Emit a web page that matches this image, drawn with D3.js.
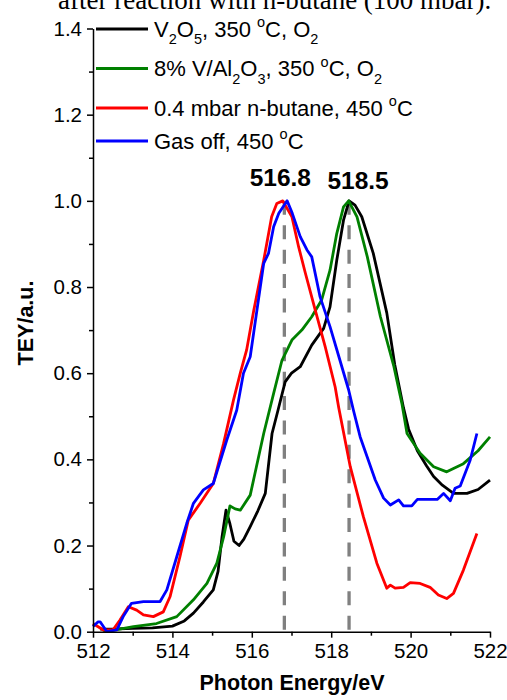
<!DOCTYPE html>
<html>
<head>
<meta charset="utf-8">
<script src="https://cdnjs.cloudflare.com/ajax/libs/d3/7.8.5/d3.min.js"></script>
<style>
  body { margin: 0; background: #fff; }
  svg text { font-family: Arial, "Liberation Sans", sans-serif; fill: #000; }
  .axis path, .axis line { stroke: #000; stroke-width: 1.5; }
  .curve { fill: none; stroke-width: 2.8; stroke-linejoin: round; }
</style>
</head>
<body>
<div id="chart"></div>
<script>
// chart size and plot box
const width = 507;
const height = 700;
const margin = { top: 28.5, right: 17, bottom: 68.3, left: 93 };

// data (photon energy in eV, TEY normalised)
const v2o5E = [512.18, 512.5, 513.0, 513.5, 514.0, 514.3, 514.53, 514.78, 515.03, 515.15, 515.25, 515.35, 515.45, 515.55, 515.68, 515.8, 515.96, 516.15, 516.34, 516.51, 516.66, 516.84, 517.0, 517.22, 517.51, 517.81, 517.97, 518.14, 518.31, 518.45, 518.6, 518.77, 519.06, 519.4, 519.6, 519.82, 519.95, 520.17, 520.4, 520.58, 520.8, 521.08, 521.42, 521.7, 522.0];
const v2o5Y = [0.006, 0.006, 0.008, 0.009, 0.013, 0.025, 0.043, 0.069, 0.097, 0.14, 0.22, 0.282, 0.25, 0.21, 0.20, 0.215, 0.244, 0.28, 0.321, 0.46, 0.514, 0.58, 0.60, 0.615, 0.665, 0.704, 0.754, 0.862, 0.955, 1.0, 0.99, 0.963, 0.878, 0.74, 0.62, 0.52, 0.47, 0.42, 0.385, 0.36, 0.34, 0.321, 0.321, 0.33, 0.352];

const valE = [512.26, 512.6, 513.02, 513.6, 514.11, 514.53, 514.87, 515.12, 515.29, 515.45, 515.58, 515.71, 515.96, 516.3, 516.55, 516.76, 517.01, 517.26, 517.51, 517.76, 517.97, 518.14, 518.31, 518.44, 518.65, 518.91, 519.24, 519.58, 519.78, 519.91, 520.24, 520.58, 520.91, 521.33, 521.7, 522.0];
const valY = [0.0, 0.005, 0.012, 0.019, 0.035, 0.074, 0.112, 0.159, 0.22, 0.292, 0.285, 0.282, 0.317, 0.46, 0.553, 0.63, 0.677, 0.70, 0.731, 0.77, 0.839, 0.924, 0.986, 1.0, 0.963, 0.87, 0.731, 0.615, 0.53, 0.46, 0.414, 0.383, 0.371, 0.39, 0.42, 0.452];

const butE = [512.0, 512.26, 512.5, 512.68, 512.89, 513.1, 513.27, 513.52, 513.77, 513.94, 514.19, 514.4, 514.7, 515.03, 515.29, 515.54, 515.71, 515.87, 516.05, 516.3, 516.5, 516.63, 516.78, 517.01, 517.18, 517.35, 517.6, 517.85, 518.1, 518.19, 518.48, 518.81, 519.15, 519.4, 519.49, 519.61, 519.82, 519.99, 520.24, 520.49, 520.7, 520.91, 521.08, 521.33, 521.67];
const butY = [0.019, 0.004, 0.004, 0.027, 0.058, 0.05, 0.039, 0.035, 0.046, 0.081, 0.174, 0.259, 0.298, 0.344, 0.437, 0.538, 0.60, 0.654, 0.746, 0.862, 0.963, 0.994, 1.0, 0.963, 0.893, 0.832, 0.746, 0.661, 0.568, 0.52, 0.383, 0.267, 0.159, 0.101, 0.108, 0.101, 0.103, 0.114, 0.112, 0.103, 0.085, 0.077, 0.089, 0.143, 0.228];

const offE = [512.0, 512.13, 512.18, 512.35, 512.6, 512.76, 512.97, 513.27, 513.69, 513.86, 514.11, 514.36, 514.53, 514.78, 515.03, 515.37, 515.62, 515.79, 515.96, 516.3, 516.42, 516.55, 516.68, 516.89, 517.02, 517.22, 517.39, 517.51, 517.72, 517.97, 518.22, 518.44, 518.56, 518.73, 519.11, 519.32, 519.49, 519.70, 519.82, 520.03, 520.17, 520.67, 520.83, 521.0, 521.12, 521.25, 521.5, 521.67];
const offY = [0.012, 0.023, 0.023, 0.0, 0.004, 0.035, 0.066, 0.07, 0.07, 0.097, 0.174, 0.251, 0.298, 0.329, 0.344, 0.445, 0.514, 0.60, 0.638, 0.855, 0.878, 0.94, 0.971, 1.0, 0.971, 0.917, 0.886, 0.87, 0.777, 0.708, 0.63, 0.561, 0.514, 0.452, 0.352, 0.31, 0.294, 0.306, 0.292, 0.292, 0.307, 0.307, 0.321, 0.304, 0.333, 0.338, 0.398, 0.46];

// peak markers
const peakE = [516.82, 518.45];
const peakLabels = ['516.8', '518.5'];

// ticks
const xTicks = [512, 514, 516, 518, 520, 522];
const xMinor = [513, 515, 517, 519, 521];
const yTicks = [0, 0.2, 0.4, 0.6, 0.8, 1.0, 1.2, 1.4];
const yMinor = [0.1, 0.3, 0.5, 0.7, 0.9, 1.1, 1.3];

const series = [
  { E: v2o5E, Y: v2o5Y, color: '#000000' },
  { E: valE, Y: valY, color: '#008000' },
  { E: butE, Y: butY, color: '#ff0000' },
  { E: offE, Y: offY, color: '#0000ff' }
];

const svg = d3.select('div#chart').append('svg').attr('width', width).attr('height', height);

// cut-off caption line at the very top
svg.append('text')
  .attr('x', 58).attr('y', 9)
  .style('font-family', '"Liberation Serif", "Times New Roman", serif')
  .style('font-size', '27px')
  .text('after reaction with n-butane (100 mbar).');

const x = d3.scaleLinear().domain([512, 522]).range([margin.left, width - margin.right]);
const y = d3.scaleLinear().domain([0, 1.4]).range([height - margin.bottom, margin.top]);

// dashed peak lines
svg.append('g').selectAll('line').data(peakE).enter().append('line')
  .attr('x1', d => x(d)).attr('x2', d => x(d))
  .attr('y1', y(1.0)).attr('y2', y(0))
  .attr('stroke', '#808080').attr('stroke-width', 3.3)
  .attr('stroke-dasharray', '14,10.4');

// curves
const line = d3.line().x(d => x(d[0])).y(d => y(d[1]));
svg.append('g').selectAll('path').data(series).enter().append('path')
  .attr('class', 'curve')
  .attr('stroke', d => d.color)
  .attr('d', d => line(d.E.map((e, i) => [e, d.Y[i]])));

// axes
svg.append('g').attr('class', 'axis').attr('transform', `translate(0,${y(0)})`)
  .call(d3.axisBottom(x).tickValues(xTicks).tickSize(6).tickSizeOuter(0).tickPadding(6).tickFormat(d3.format('d')));
svg.append('g').attr('class', 'axis').attr('transform', `translate(0,${y(0)})`)
  .call(d3.axisBottom(x).tickValues(xMinor).tickSize(4).tickFormat(''))
  .select('.domain').remove();

svg.append('g').attr('class', 'axis').attr('transform', `translate(${x(512)},0)`)
  .call(d3.axisLeft(y).tickValues(yTicks).tickSize(6).tickSizeOuter(0).tickPadding(5).tickFormat(d3.format('.1f')));
svg.append('g').attr('class', 'axis').attr('transform', `translate(${x(512)},0)`)
  .call(d3.axisLeft(y).tickValues(yMinor).tickSize(4).tickFormat(''))
  .select('.domain').remove();

svg.selectAll('.axis text').style('font-size', '20.5px').style('font-family', 'Arial, "Liberation Sans", sans-serif');

// axis titles
svg.append('text')
  .attr('x', 292).attr('y', 690)
  .attr('text-anchor', 'middle')
  .style('font-size', '21.5px').style('font-weight', 'bold')
  .text('Photon Energy/eV');

svg.append('text')
  .attr('transform', `translate(33,323) rotate(-90)`)
  .attr('text-anchor', 'middle')
  .style('font-size', '21.5px').style('font-weight', 'bold')
  .text('TEY/a.u.');

// peak labels
svg.append('g').selectAll('text').data(peakE).enter().append('text')
  .attr('x', (d, i) => x(d) + (i === 0 ? -4 : 9))
  .attr('y', (d, i) => i === 0 ? 186 : 189)
  .attr('text-anchor', 'middle')
  .style('font-size', '24.5px').style('font-weight', 'bold')
  .text((d, i) => peakLabels[i]);

// legend: pieces are [text, level] with -1 subscript, 1 superscript
const legendRows = [
  { color: '#000000', y: 29, parts: [['V', 0], ['2', -1], ['O', 0], ['5', -1], [', 350 ', 0], ['o', 1], ['C, O', 0], ['2', -1]] },
  { color: '#008000', y: 68.5, parts: [['8% V/Al', 0], ['2', -1], ['O', 0], ['3', -1], [', 350 ', 0], ['o', 1], ['C, O', 0], ['2', -1]] },
  { color: '#ff0000', y: 108, parts: [['0.4 mbar n-butane, 450 ', 0], ['o', 1], ['C', 0]] },
  { color: '#0000ff', y: 141, parts: [['Gas off, 450 ', 0], ['o', 1], ['C', 0]] }
];

const legend = svg.append('g');
legendRows.forEach(r => {
  legend.append('line')
    .attr('x1', 96).attr('x2', 148).attr('y1', r.y).attr('y2', r.y)
    .attr('stroke', r.color).attr('stroke-width', 3);
  const t = legend.append('text').attr('x', 154).attr('y', r.y + 7.5).style('font-size', '22px');
  let shift = 0;
  r.parts.forEach(p => {
    const target = p[1] === -1 ? 7.5 : p[1] === 1 ? -9.5 : 0;
    const s = t.append('tspan').text(p[0]).attr('dy', target - shift);
    if (p[1] !== 0) s.style('font-size', '14.5px');
    shift = target;
  });
});
</script>
</body>
</html>
